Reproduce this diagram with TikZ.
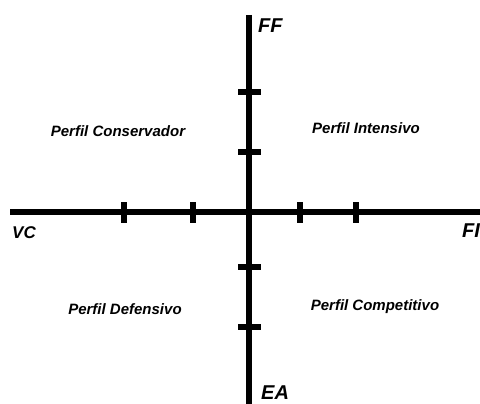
\documentclass[tikz,border=0pt]{standalone}
\usepackage{fontspec}
\setmainfont{Liberation Sans}
\tikzset{
  axisline/.style={line width=5.5pt},
  tickmark/.style={line width=5.5pt},
  axislabel/.style={font=\fontsize{20}{22}\selectfont\bfseries\itshape,inner sep=0pt,anchor=base west},
  profile/.style={font=\fontsize{15}{17}\selectfont\bfseries\itshape,inner sep=0pt,anchor=base}
}
\begin{document}
\begin{tikzpicture}[x=1pt,y=-1pt,line join=round]
\useasboundingbox (0,0) rectangle (480,404);
\clip (0,0) rectangle (480,404);
% axes
\coordinate (west) at (10,212);
\coordinate (east) at (485,212);
\coordinate (north) at (249,15);
\coordinate (south) at (249,410);
\draw[axisline] (west) -- (east);
\draw[axisline] (north) -- (south);
% tick marks
\foreach \x in {124,193,300,356}
  \draw[tickmark] (\x,202) -- (\x,223);
\foreach \y in {92,152,267,327}
  \draw[tickmark] (238,\y) -- (261,\y);
% axis labels
\node[axislabel] (ff) at (258,33) {FF};
\node[axislabel] (ea) at (261,399) {EA};
\node[axislabel,font=\fontsize{17}{19}\selectfont\bfseries\itshape] (vc) at (12,238) {VC};
\node[axislabel] (fi) at (462,237) {FI};
% quadrants
\node[profile] (conservador) at (118,136) {Perfil Conservador};
\node[profile] (intensivo) at (366,134) {Perfil Intensivo};
\node[profile] (defensivo) at (125,314) {Perfil Defensivo};
\node[profile] (competitivo) at (375,310) {Perfil Competitivo};
\end{tikzpicture}
\end{document}
